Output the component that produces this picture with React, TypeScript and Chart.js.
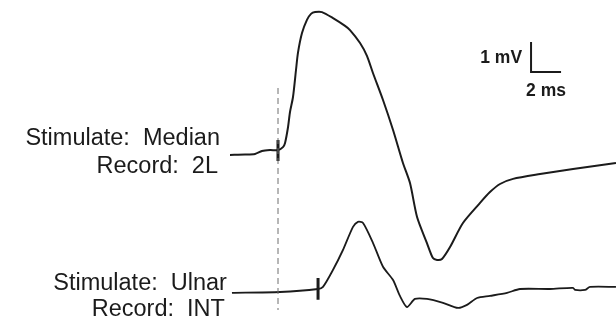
import React, { useEffect, useRef } from "react";
import { Chart, registerables } from "chart.js";

Chart.register(...registerables);

// Time in ms (0 = stimulus marker of the median trace), amplitude in mV.
const MEDIAN_T = [-3.2, -2.2, -1.53, -1.07, -0.53, 0, 0.33, 0.47, 0.67, 0.8, 1.0, 1.2, 1.33, 1.6, 1.93, 2.2, 2.47, 2.93, 3.67, 4.47, 4.8, 5.47, 5.93, 6.33, 7.0, 7.67, 8.33, 8.8, 9.27, 9.93, 10.33, 10.6, 10.93, 11.47, 12.33, 13.47, 14.13, 14.8, 15.67, 17.47, 19.67, 22.53];
const MEDIAN_MV = [-0.13, -0.12, -0.1, 0.0, 0.03, 0.03, 0.13, 0.27, 0.8, 1.3, 1.8, 2.7, 3.27, 3.93, 4.37, 4.57, 4.63, 4.63, 4.43, 4.17, 4.03, 3.6, 3.17, 2.6, 1.7, 0.7, -0.4, -1.07, -2.2, -3.07, -3.57, -3.63, -3.6, -3.2, -2.4, -1.73, -1.37, -1.1, -0.93, -0.77, -0.6, -0.4];

const ULNAR_T = [-3.07, 0.13, 2.67, 3.0, 3.67, 4.33, 5.0, 5.33, 5.67, 6.33, 7.0, 7.67, 8.13, 8.6, 9.13, 9.93, 11.0, 12.0, 12.6, 13.27, 14.13, 15.27, 16.13, 18.13, 19.67, 19.8, 20.47, 20.8, 22.53];
const ULNAR_MV = [-0.1, -0.07, 0.03, 0.1, 0.67, 1.33, 2.1, 2.27, 2.23, 1.57, 0.77, 0.33, -0.2, -0.57, -0.3, -0.3, -0.43, -0.6, -0.5, -0.27, -0.2, -0.1, 0.03, 0.03, 0.07, 0, 0, 0.1, 0.1];

// Onset markers (ms)
const MEDIAN_ONSET = 0;
const ULNAR_ONSET = 2.67;

// Vertical offset of the ulnar trace baseline (mV)
const ULNAR_OFFSET = -4.63;

// Calibration bar: 1 mV by 2 ms, corner position in chart units
const CAL_MV = 1;
const CAL_MS = 2;
const CAL_CORNER = { t: 16.87, v: 2.633 };

const MEDIAN_LABELS = ["Stimulate:  Median", "Record:  2L"];
const ULNAR_LABELS = ["Stimulate:  Ulnar", "Record:  INT"];
const CAL_LABELS = ["1 mV", "2 ms"];

const INK = "#1b1b1b";
const LABEL_FONT = "23.5px 'Liberation Sans', Arial, sans-serif";
const CAL_FONT = "bold 17.5px 'Liberation Sans', Arial, sans-serif";

const zip = (t: number[], v: number[], off = 0) => t.map((x, i) => ({ x, y: v[i] + off }));

const labelPlugin = {
  id: "traceLabels",
  afterDatasetsDraw(chart: any) {
    const { ctx, scales } = chart;
    const xs = scales.x;
    const ys = scales.y;
    ctx.save();
    ctx.fillStyle = INK;
    ctx.textBaseline = "alphabetic";

    ctx.font = LABEL_FONT;
    ctx.textAlign = "right";
    const mx = xs.getPixelForValue(MEDIAN_T[0]) - 10;
    const my = ys.getPixelForValue(0);
    ctx.fillText(MEDIAN_LABELS[0], mx, my - 6);
    ctx.fillText(MEDIAN_LABELS[1], mx - 2, my + 22);

    const ux = xs.getPixelForValue(ULNAR_T[0]) - 5;
    const uy = ys.getPixelForValue(ULNAR_OFFSET);
    ctx.fillText(ULNAR_LABELS[0], ux, uy);
    ctx.fillText(ULNAR_LABELS[1], ux - 2, uy + 26);

    ctx.font = CAL_FONT;
    const cx = xs.getPixelForValue(CAL_CORNER.t);
    const cy = ys.getPixelForValue(CAL_CORNER.v);
    ctx.textAlign = "right";
    ctx.fillText(CAL_LABELS[0], cx - 9, cy - 9);
    ctx.textAlign = "center";
    const cx2 = xs.getPixelForValue(CAL_CORNER.t + CAL_MS / 2);
    ctx.fillText(CAL_LABELS[1], cx2, cy + 24);
    ctx.restore();
  },
};

export default function App() {
  const ref = useRef<HTMLCanvasElement | null>(null);

  useEffect(() => {
    document.body.style.margin = "0";
    document.body.style.background = "#ffffff";
    const canvas = ref.current;
    if (!canvas) return;

    const line = (data: any[], opts: any = {}) => ({
      data,
      showLine: true,
      pointRadius: 0,
      borderColor: INK,
      borderWidth: 2,
      fill: false,
      tension: 0.25,
      ...opts,
    });

    const chart = new Chart(canvas, {
      type: "scatter",
      data: {
        datasets: [
          // Stimulus reference line
          line(
            [
              { x: MEDIAN_ONSET, y: 2.1 },
              { x: MEDIAN_ONSET, y: -5.3 },
            ],
            { borderColor: "#6e6e6e", borderWidth: 1, borderDash: [6, 4], tension: 0 }
          ),
          line(zip(MEDIAN_T, MEDIAN_MV)),
          line(zip(ULNAR_T, ULNAR_MV, ULNAR_OFFSET), { borderWidth: 1.8 }),
          // Onset markers
          line(
            [
              { x: MEDIAN_ONSET, y: 0.37 },
              { x: MEDIAN_ONSET, y: -0.33 },
            ],
            { borderWidth: 3, tension: 0 }
          ),
          line(
            [
              { x: ULNAR_ONSET, y: 0.4 + ULNAR_OFFSET },
              { x: ULNAR_ONSET, y: -0.33 + ULNAR_OFFSET },
            ],
            { borderWidth: 3, tension: 0 }
          ),
          // Calibration bar
          line(
            [
              { x: CAL_CORNER.t, y: CAL_CORNER.v + CAL_MV },
              { x: CAL_CORNER.t, y: CAL_CORNER.v },
              { x: CAL_CORNER.t + CAL_MS, y: CAL_CORNER.v },
            ],
            { borderWidth: 2, tension: 0, borderJoinStyle: "miter" }
          ),
        ],
      },
      options: {
        animation: false,
        responsive: false,
        devicePixelRatio: 1,
        layout: { padding: 0 },
        plugins: {
          legend: { display: false },
          tooltip: { enabled: false },
        },
        scales: {
          x: { type: "linear", display: false, min: -278 / 15, max: 338 / 15 },
          y: { type: "linear", display: false, min: -170 / 30, max: 151 / 30 },
        },
      },
      plugins: [labelPlugin],
    });

    return () => chart.destroy();
  }, []);

  return (
    <div style={{ position: "fixed", left: 0, top: 0, width: 616, height: 321, background: "#fff" }}>
      <canvas ref={ref} width={616} height={321} />
    </div>
  );
}
